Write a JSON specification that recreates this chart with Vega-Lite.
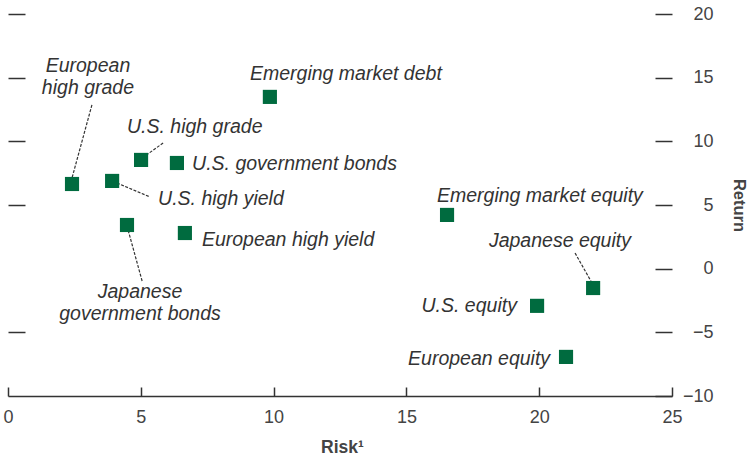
{
  "$schema": "https://vega.github.io/schema/vega-lite/v6.json",
  "width": 664,
  "height": 382,
  "autosize": {"type": "none"},
  "padding": {"left": 8, "top": 14, "right": 76, "bottom": 61},
  "background": "white",
  "config": {"view": {"stroke": null}, "font": "Liberation Sans"},
  "datasets": {
    "points": [
      {"name": "European high grade", "x": 2.41, "y": 6.65},
      {"name": "U.S. high yield", "x": 3.92, "y": 6.89},
      {"name": "U.S. high grade", "x": 5.01, "y": 8.54},
      {"name": "U.S. government bonds", "x": 6.36, "y": 8.3},
      {"name": "Emerging market debt", "x": 9.86, "y": 13.49},
      {"name": "Japanese government bonds", "x": 4.48, "y": 3.43},
      {"name": "European high yield", "x": 6.66, "y": 2.8},
      {"name": "Emerging market equity", "x": 16.53, "y": 4.22},
      {"name": "Japanese equity", "x": 22.03, "y": -1.52},
      {"name": "U.S. equity", "x": 19.92, "y": -2.92},
      {"name": "European equity", "x": 21.01, "y": -6.93}
    ],
    "labelsLeft": [
      {"text": "Emerging market debt", "x": 9.11, "y": 14.82},
      {"text": "U.S. high grade", "x": 4.48, "y": 10.66},
      {"text": "U.S. government bonds", "x": 6.93, "y": 7.75},
      {"text": "U.S. high yield", "x": 5.65, "y": 5.0},
      {"text": "European high yield", "x": 7.3, "y": 1.78},
      {"text": "Emerging market equity", "x": 16.15, "y": 5.24}
    ],
    "labelsRight": [
      {"text": "U.S. equity", "x": 19.16, "y": -3.4},
      {"text": "European equity", "x": 20.41, "y": -7.56}
    ],
    "labelsCenter": [
      {"text": "Japanese equity", "x": 20.78, "y": 1.7},
      {"text": "European\nhigh grade", "x": 3.01, "y": 15.45},
      {"text": "Japanese\ngovernment bonds", "x": 4.97, "y": -2.3}
    ],
    "leaders": [
      {"x": 3.16, "y": 12.86, "x2": 2.41, "y2": 7.12},
      {"x": 5.84, "y": 9.87, "x2": 5.16, "y2": 8.85},
      {"x": 4.1, "y": 6.73, "x2": 5.35, "y2": 5.63},
      {"x": 4.48, "y": 3.35, "x2": 5.05, "y2": -0.97},
      {"x": 21.35, "y": 1.23, "x2": 21.99, "y2": -1.13}
    ]
  },
  "resolve": {"axis": {"y": "independent"}, "scale": {"y": "shared", "x": "shared"}},
  "layer": [
    {
      "data": {"name": "leaders"},
      "mark": {"type": "rule", "color": "#333333", "strokeWidth": 1.2, "strokeDash": [3, 1.5]},
      "encoding": {
        "x": {
          "field": "x", "type": "quantitative",
          "scale": {"domain": [0, 25], "nice": false},
          "axis": {
            "orient": "bottom", "values": [0, 5, 10, 15, 20, 25],
            "tickSize": -9, "tickColor": "#333333", "tickWidth": 1.5,
            "domainColor": "#333333", "domainWidth": 1.5,
            "labelFont": "Liberation Sans", "labelFontSize": 18, "labelColor": "#444444",
            "labelPadding": 21, "labelBaseline": "top", "labelFlush": false, "labelOverlap": false,
            "grid": false,
            "title": "Risk¹", "titleFont": "Liberation Sans", "titleFontSize": 17.5,
            "titleFontWeight": "bold", "titleColor": "#444444",
            "titleX": 334, "titleY": 56, "titleBaseline": "alphabetic", "titleAlign": "center"
          }
        },
        "y": {
          "field": "y", "type": "quantitative",
          "scale": {"domain": [-10, 20], "nice": false},
          "axis": {
            "orient": "left", "values": [-5, 5, 10, 15, 20],
            "tickSize": -17, "tickColor": "#333333", "tickWidth": 1.5,
            "domain": false, "labels": false, "grid": false, "title": null,
            "minExtent": 0, "maxExtent": 0
          }
        },
        "x2": {"field": "x2"},
        "y2": {"field": "y2"}
      }
    },
    {
      "mark": {"type": "rule", "color": "#333333", "strokeWidth": 1.5},
      "encoding": {
        "y": {"datum": 0, "type": "quantitative", "axis": null}
      }
    },
    {
      "data": {"name": "points"},
      "mark": {"type": "square", "size": 200, "color": "#006B3F", "opacity": 1, "filled": true},
      "encoding": {
        "x": {"field": "x", "type": "quantitative"},
        "y": {
          "field": "y", "type": "quantitative",
          "axis": {
            "orient": "right", "values": [-10, -5, 0, 5, 10, 15, 20],
            "tickSize": -17, "tickColor": "#333333", "tickWidth": 1.5,
            "domain": false, "grid": false,
            "labelFont": "Liberation Sans", "labelFontSize": 18, "labelColor": "#444444",
            "labelAlign": "right", "labelBaseline": "middle", "labelPadding": 58, "labelFlush": false,
            "labelOverlap": false,
            "title": "Return", "titleFont": "Liberation Sans", "titleFontSize": 16.5,
            "titleFontWeight": "bold", "titleColor": "#444444", "titleAngle": 90,
            "titleX": 66, "titleY": 191, "titleAlign": "center", "titleBaseline": "middle"
          }
        }
      }
    },
    {
      "data": {"name": "labelsLeft"},
      "mark": {"type": "text", "align": "left", "baseline": "alphabetic", "font": "Liberation Sans", "fontStyle": "italic", "fontSize": 19.5, "color": "#333333"},
      "encoding": {
        "x": {"field": "x", "type": "quantitative"},
        "y": {"field": "y", "type": "quantitative", "axis": null},
        "text": {"field": "text"}
      }
    },
    {
      "data": {"name": "labelsRight"},
      "mark": {"type": "text", "align": "right", "baseline": "alphabetic", "font": "Liberation Sans", "fontStyle": "italic", "fontSize": 19.5, "color": "#333333"},
      "encoding": {
        "x": {"field": "x", "type": "quantitative"},
        "y": {"field": "y", "type": "quantitative", "axis": null},
        "text": {"field": "text"}
      }
    },
    {
      "data": {"name": "labelsCenter"},
      "mark": {"type": "text", "align": "center", "baseline": "alphabetic", "lineBreak": "\n", "lineHeight": 22, "font": "Liberation Sans", "fontStyle": "italic", "fontSize": 19.5, "color": "#333333"},
      "encoding": {
        "x": {"field": "x", "type": "quantitative"},
        "y": {"field": "y", "type": "quantitative", "axis": null},
        "text": {"field": "text"}
      }
    }
  ]
}
